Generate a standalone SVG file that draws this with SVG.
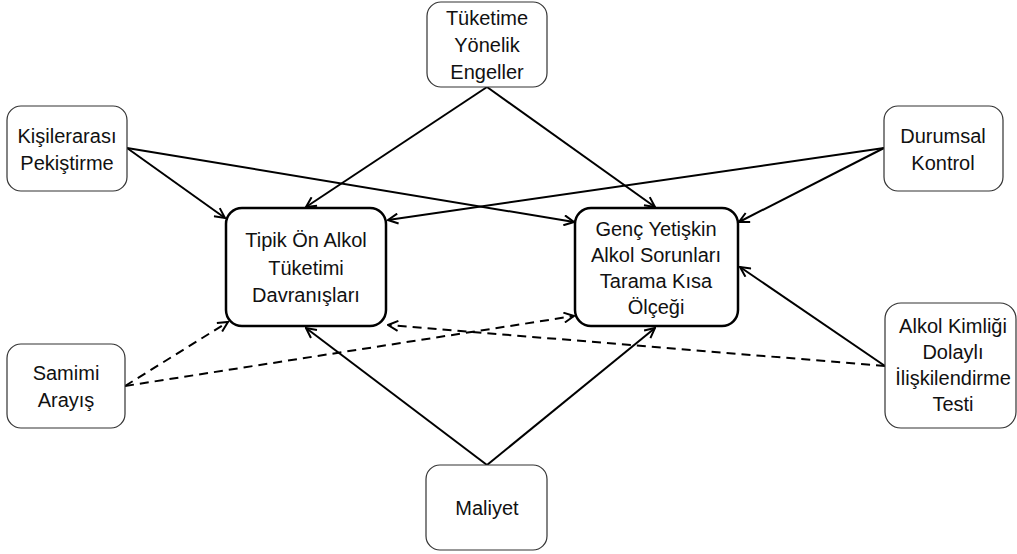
<svg xmlns="http://www.w3.org/2000/svg" width="1017" height="554" viewBox="0 0 1017 554">
<style>
.box{fill:#fff;stroke:#333;stroke-width:1.2}
.main{fill:#fff;stroke:#000;stroke-width:2.5}
text{font-family:"Liberation Sans",Arial,sans-serif;font-size:20px;fill:#111;text-anchor:middle}
.c{stroke:#000;stroke-width:2;fill:none;marker-end:url(#a)}
.d{stroke-dasharray:9,6}
</style>
<defs>
<marker id="a" viewBox="0 0 12 12" refX="11" refY="6" markerWidth="12" markerHeight="12" markerUnits="userSpaceOnUse" orient="auto">
<path d="M1,1 L11,6 L1,11" fill="none" stroke="#000" stroke-width="2"/>
</marker>
</defs>
<g id="connectors">
<line class="c" x1="487" y1="87" x2="306" y2="207"/>
<line class="c" x1="487" y1="87" x2="655" y2="207"/>
<line class="c" x1="127" y1="148" x2="225" y2="218"/>
<line class="c" x1="127" y1="148" x2="574" y2="222"/>
<line class="c" x1="884" y1="148" x2="388" y2="220"/>
<line class="c" x1="884" y1="148" x2="739" y2="222"/>
<line class="c" x1="885" y1="366" x2="740" y2="267"/>
<line class="c d" x1="885" y1="366" x2="388" y2="325"/>
<line class="c d" x1="125" y1="386" x2="228" y2="322"/>
<line class="c d" x1="125" y1="386" x2="574" y2="316"/>
<line class="c" x1="487" y1="465" x2="306" y2="328"/>
<line class="c" x1="487" y1="465" x2="655" y2="328"/>
</g>
<g id="tuketime">
<rect class="box" x="427" y="2" width="120" height="85" rx="14"/>
<text x="487" y="25">Tüketime</text><text x="487" y="52">Yönelik</text><text x="487" y="79">Engeller</text>
</g>
<g id="kisilerarasi">
<rect class="box" x="7" y="106" width="120" height="85" rx="14"/>
<text x="67" y="143">Kişilerarası</text><text x="67" y="170">Pekiştirme</text>
</g>
<g id="durumsal">
<rect class="box" x="884" y="106" width="119" height="85" rx="14"/>
<text x="943" y="143">Durumsal</text><text x="943" y="170">Kontrol</text>
</g>
<g id="tipik">
<rect class="main" x="226" y="208" width="160" height="118" rx="16"/>
<text x="306" y="247">Tipik Ön Alkol</text><text x="306" y="275">Tüketimi</text><text x="306" y="302">Davranışları</text>
</g>
<g id="genc">
<rect class="main" x="575" y="208" width="163" height="118" rx="16"/>
<text x="656" y="236">Genç Yetişkin</text><text x="656" y="262">Alkol Sorunları</text><text x="656" y="288">Tarama Kısa</text><text x="656" y="314">Ölçeği</text>
</g>
<g id="samimi">
<rect class="box" x="7" y="344" width="118" height="84" rx="14"/>
<text x="66" y="380">Samimi</text><text x="66" y="407">Arayış</text>
</g>
<g id="alkolkimligi">
<rect class="box" x="885" y="303" width="131" height="125" rx="16"/>
<text x="953" y="333">Alkol Kimliği</text><text x="953" y="359">Dolaylı</text><text x="953" y="385">İlişkilendirme</text><text x="953" y="411">Testi</text>
</g>
<g id="maliyet">
<rect class="box" x="426" y="465" width="121" height="85" rx="14"/>
<text x="487" y="515">Maliyet</text>
</g>
</svg>
